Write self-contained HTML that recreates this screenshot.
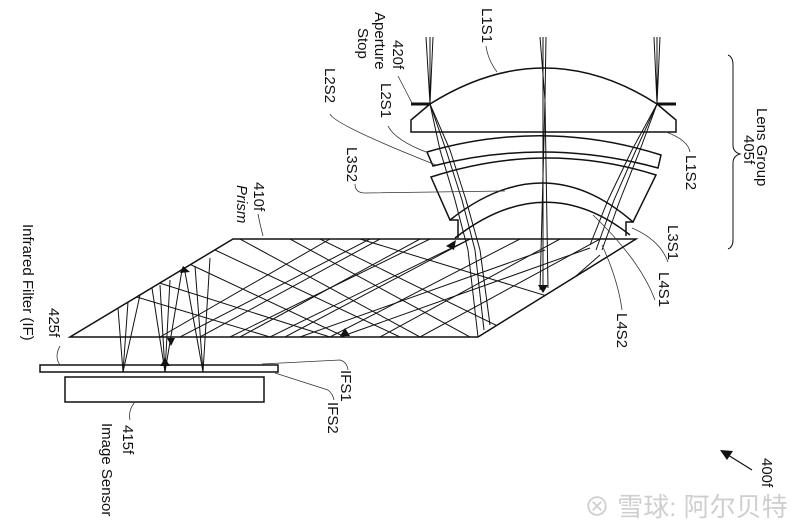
<!DOCTYPE html>
<html><head><meta charset="utf-8"><style>
html,body{margin:0;padding:0;background:#fff}
svg{display:block}
text{font-family:"Liberation Sans",Arial,sans-serif;font-size:15px;fill:#111}
</style></head><body>
<svg width="800" height="528" viewBox="0 0 800 528" xmlns="http://www.w3.org/2000/svg">
<defs>
<clipPath id="pr"><polygon points="233,239 636,239 478,337 70,337"/></clipPath>
</defs>
<g fill="none" stroke="#111" stroke-width="1.5">
<path d="M430,104 Q545,32 657,104 L676,120 L676,132 L411,132 L411,120 Z"/>
<line x1="411" y1="104" x2="430" y2="104" stroke-width="3"/>
<line x1="657" y1="104" x2="676" y2="104" stroke-width="3"/>
<path d="M427,152 Q545,118 661,155 L658,168 Q545,137 433,166 Z"/>
<path d="M431,177 Q545,140 656,175 L633,222 Q545,145 450,220 Z"/>
<path d="M450,220 L458,220 L458,238"/>
<path d="M633,222 L626,222 L626,236"/>
<path d="M455,238 Q545,168 630,235"/>
<polygon points="233,239 636,239 478,337 70,337"/>
<rect x="40" y="365" width="238" height="7"/>
<rect x="65" y="377" width="199" height="25"/>
</g>
<g fill="none" stroke="#111" stroke-width="1">
<path d="M426,37 L430,104 L440,150 L455,200 L468,250 L478,337"/>
<path d="M430,37 L430,104 L446,150 L462,200 L475,250 L484,330"/>
<path d="M433,37 L430,104 L450,150 L466,200 L480,250 L490,325"/>
<path d="M540,37 L545,100 L540,290"/>
<path d="M546,37 L545,100 L548,288"/>
<path d="M543,37 L543,286"/>
<path d="M654,37 L657,104 L640,150 L620,200 L602,250"/>
<path d="M660,37 L657,104 L636,150 L614,200 L596,250"/>
<path d="M657,37 L657,104 L632,150 L608,200 L590,245"/>
<g clip-path="url(#pr)">
<line x1="600" y1="239" x2="420" y2="337"/>
<line x1="560" y1="239" x2="380" y2="337"/>
<line x1="520" y1="239" x2="330" y2="337"/>
<line x1="470" y1="239" x2="285" y2="337"/>
<line x1="420" y1="239" x2="240" y2="337"/>
<line x1="380" y1="239" x2="200" y2="337"/>
<line x1="330" y1="239" x2="160" y2="337"/>
<line x1="420" y1="337" x2="240" y2="239"/>
<line x1="470" y1="337" x2="290" y2="239"/>
<line x1="520" y1="337" x2="320" y2="239"/>
<line x1="560" y1="300" x2="360" y2="239"/>
<line x1="400" y1="337" x2="215" y2="250"/>
<line x1="345" y1="337" x2="185" y2="262"/>
<line x1="330" y1="337" x2="150" y2="280"/>
<line x1="270" y1="337" x2="130" y2="295"/>
<line x1="300" y1="337" x2="545" y2="250"/>
<line x1="340" y1="337" x2="590" y2="248"/>
<line x1="270" y1="337" x2="470" y2="239"/>
<line x1="230" y1="337" x2="430" y2="239"/>
<line x1="180" y1="337" x2="370" y2="239"/>
<line x1="560" y1="290" x2="600" y2="255"/>
</g>
<path d="M118,308 L123,372 L140,295"/>
<path d="M128,302 L123,372"/>
<path d="M152,288 L165,372 L170,280"/>
<path d="M160,285 L165,372 L182,270"/>
<path d="M185,272 L203,372 L210,258"/>
<path d="M195,266 L203,372"/>
</g>
<g fill="#111">
<polygon points="446,246 456,240 454,250"/>
<polygon points="538,285 548,285 543,293"/>
<polygon points="340,336 350,336 345,328"/>
<polygon points="180,273 190,272 183,266"/>
<polygon points="167,338 175,338 171,346"/>
<polygon points="160,366 170,366 165,358"/>
</g>
<g fill="none" stroke="#333" stroke-width="0.8">
<path d="M486,46 Q488,60 497,72"/>
<path d="M398,76 L412,103"/>
<path d="M388,126 Q395,140 426,152"/>
<path d="M330,114 Q335,125 436,165"/>
<path d="M355,184 Q355,193 365,193 L505,191"/>
<path d="M258,214 Q260,225 263,236"/>
<path d="M666,132 Q688,140 690,152"/>
<path d="M632,228 Q660,240 668,262"/>
<path d="M593,215 Q640,260 655,300"/>
<path d="M602,245 Q618,280 622,310"/>
<path d="M262,364 L340,360 Q347,362 348,370"/>
<path d="M275,373 L328,390 Q333,394 334,400"/>
<path d="M60,365 Q54,357 60,346"/>
<path d="M135,402 Q128,410 130,420"/>
<path d="M728,55 Q733,57 733,65 L733,145 Q733,152 740,154 Q733,156 733,163 L733,240 Q733,247 728,249" stroke="#111" stroke-width="1"/>
<line x1="752" y1="470" x2="728" y2="455" stroke="#111" stroke-width="1.2"/>
</g>
<polygon points="720,450 733,451 727,460" fill="#111"/>
<g>
<text transform="translate(482,8) rotate(90)">L1S1</text>
<text transform="translate(393,40) rotate(90)">420f</text>
<text transform="translate(375,12) rotate(90)">Aperture</text>
<text transform="translate(358,28) rotate(90)">Stop</text>
<text transform="translate(381,83) rotate(90)">L2S1</text>
<text transform="translate(325,68) rotate(90)">L2S2</text>
<text transform="translate(347,147) rotate(90)">L3S2</text>
<text transform="translate(254,182) rotate(90)">410f</text>
<text transform="translate(237,185) rotate(90)" font-style="italic">Prism</text>
<text transform="translate(757,108) rotate(90)">Lens Group</text>
<text transform="translate(744,135) rotate(90)">405f</text>
<text transform="translate(686,155) rotate(90)">L1S2</text>
<text transform="translate(668,225) rotate(90)">L3S1</text>
<text transform="translate(659,272) rotate(90)">L4S1</text>
<text transform="translate(617,313) rotate(90)">L4S2</text>
<text transform="translate(341,370) rotate(90)">IFS1</text>
<text transform="translate(328,402) rotate(90)">IFS2</text>
<text transform="translate(49,308) rotate(90)">425f</text>
<text transform="translate(23,224) rotate(90)">Infrared Filter (IF)</text>
<text transform="translate(123,425) rotate(90)">415f</text>
<text transform="translate(102,423) rotate(90)">Image Sensor</text>
<text transform="translate(762,458) rotate(90)">400f</text>
</g>
<text x="584" y="516" style="font-family:'Liberation Sans','Noto Sans CJK SC',sans-serif;font-size:26px;fill:#cfcfcf">⊗ 雪球: 阿尔贝特</text>
</svg>
</body></html>
